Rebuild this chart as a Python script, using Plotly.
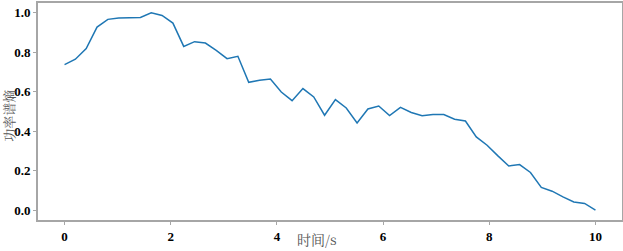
import plotly.graph_objects as go

time_s = [0.000, 0.204, 0.408, 0.612, 0.816, 1.020, 1.224, 1.429, 1.633, 1.837,
          2.041, 2.245, 2.449, 2.653, 2.857, 3.061, 3.265, 3.469, 3.673, 3.878,
          4.082, 4.286, 4.490, 4.694, 4.898, 5.102, 5.306, 5.510, 5.714, 5.918,
          6.122, 6.327, 6.531, 6.735, 6.939, 7.143, 7.347, 7.551, 7.755, 7.959,
          8.163, 8.367, 8.571, 8.776, 8.980, 9.184, 9.388, 9.592, 9.796, 10.000]
power_spectral_entropy = [0.738, 0.765, 0.819, 0.928, 0.967, 0.974, 0.975, 0.977, 1.000, 0.987,
                          0.948, 0.830, 0.854, 0.847, 0.810, 0.768, 0.780, 0.648, 0.658, 0.665,
                          0.599, 0.555, 0.616, 0.574, 0.481, 0.560, 0.518, 0.442, 0.513, 0.528,
                          0.479, 0.521, 0.495, 0.478, 0.485, 0.485, 0.461, 0.452, 0.371, 0.329,
                          0.275, 0.224, 0.231, 0.191, 0.115, 0.096, 0.067, 0.041, 0.034, 0.000]
x_ticks = [0, 2, 4, 6, 8, 10]
y_ticks = [0.0, 0.2, 0.4, 0.6, 0.8, 1.0]
y_tick_text = ["0.0", "0.2", "0.4", "0.6", "0.8", "1.0"]
x_title = "时间/s"
y_title = "功率谱熵"

fig = go.Figure(go.Scatter(x=time_s, y=power_spectral_entropy, mode="lines",
                           line=dict(color="#1f77b4", width=1.5), hoverinfo="skip"))

tick_font = dict(family="'Liberation Serif', 'Times New Roman', serif", size=13, color="black")
title_font = dict(family="'Noto Serif CJK SC', 'Noto Sans CJK SC', serif", size=13, color="#555555")
spine = "#a6a6a6"
fig.update_layout(
    width=623, height=251,
    margin=dict(l=38, r=1, t=3, b=31),
    paper_bgcolor="white", plot_bgcolor="white",
    showlegend=False,
    xaxis=dict(range=[-0.5, 10.5], tickvals=x_ticks, ticktext=[f"<b>{v}</b>" for v in x_ticks],
               showgrid=False, zeroline=False, showline=True, mirror=True, automargin=False,
               linecolor=spine, linewidth=2, ticks="outside", ticklen=3,
               tickcolor=spine, tickwidth=1, tickfont=tick_font),
    yaxis=dict(range=[-0.05, 1.05], tickvals=y_ticks, ticktext=[f"<b>{t}</b>" for t in y_tick_text],
               showgrid=False, zeroline=False, showline=True, mirror=True, automargin=False,
               linecolor=spine, linewidth=2, ticks="outside", ticklen=3,
               tickcolor=spine, tickwidth=1, tickfont=tick_font),
    annotations=[
        dict(text=x_title, xref="paper", yref="paper", x=0.478, y=0, yshift=-31,
             xanchor="center", yanchor="bottom", showarrow=False,
             font=dict(title_font, size=14)),
        dict(text=y_title, xref="paper", yref="paper", x=-0.05, y=0.48,
             xanchor="center", yanchor="middle", textangle=-90, showarrow=False, font=title_font),
    ],
)
fig.write_html("out.html", config={"displayModeBar": False},
               post_script="document.body.style.margin='0';document.body.style.overflow='hidden';")
